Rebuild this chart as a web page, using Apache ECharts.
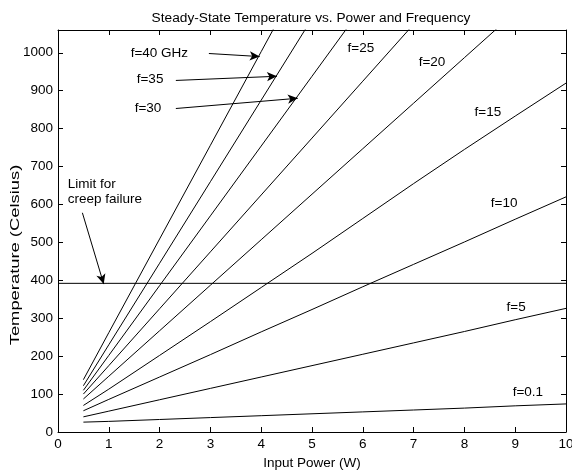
<!DOCTYPE html>
<html>
<head>
<meta charset="utf-8">
<script src="https://cdn.jsdelivr.net/npm/echarts@6/dist/echarts.min.js"></script>
<style>html,body{margin:0;padding:0;background:#fff}#c{width:572px;height:470px}</style>
</head>
<body>
<div id="c"></div>
<script>
// ---- data ----
var powers = [0.5, 1, 2, 3, 4, 5, 6, 7, 8, 9, 10];
var f0_1 = [26, 28, 33, 38, 43, 48, 53, 58, 63, 69, 74];
var f5   = [40, 55, 85, 115, 145, 175, 205, 235, 265, 296, 326];
var f10  = [56, 86, 145, 204, 264, 323, 383, 442, 501, 561, 620];
var f15  = [70, 113, 202, 291, 381, 471, 563, 655, 745, 833, 920];
var f20  = [87, 147, 267, 387, 507, 627, 747, 867, 987, 1107];
var f25  = [100, 175, 325, 475, 625, 775, 925, 1075];
var f30  = [110, 202, 386, 570, 754, 938, 1122];
var f35  = [122, 230, 445, 660, 875, 1090];
var f40  = [138, 262, 509, 756, 1003, 1250];
var limitX = [0, 10];
var limitTemp = 392;
var xTicks = [0,1,2,3,4,5,6,7,8,9,10];
var yTicks = [0,100,200,300,400,500,600,700,800,900,1000];
var yTitle = 'Temperature (Celsius)';

// annotations in data space
var curveLabels = [
  ['f=40 GHz', 1.43, 998], ['f=35', 1.55, 930], ['f=30', 1.51, 853],
  ['f=25', 5.70, 1011], ['f=20', 7.10, 975], ['f=15', 8.20, 843],
  ['f=10', 8.52, 603], ['f=5', 8.83, 330], ['f=0.1', 8.95, 106],
  ['Limit for', 0.19, 653], ['creep failure', 0.19, 614]
];
var arrows = [
  [[2.97, 998], [3.97, 990]],
  [[2.32, 927], [4.31, 938]],
  [[2.32, 853], [4.72, 880]],
  [[0.48, 578], [0.90, 390]]
];

var FONT = 'Liberation Sans, Arial, Helvetica, sans-serif';
function pairs(ys){ return ys.map(function(v,i){ return [powers[i], v]; }); }
function curve(name, ys){
  return { name:name, type:'line', data:pairs(ys), symbol:'none', clip:true,
    lineStyle:{ color:'#000', width:1 }, silent:true, animation:false };
}

var chart = echarts.init(document.getElementById('c'), null, {renderer:'canvas'});
var axisCommon = {
  axisLine:{ show:true, onZero:false, lineStyle:{ color:'#000', width:1 } },
  axisTick:{ show:true, inside:true, length:5, lineStyle:{ color:'#000' } },
  splitLine:{ show:false }
};
var option = {
  animation:false,
  backgroundColor:'#fff',
  title:{ text:'Steady-State Temperature vs. Power and Frequency', left:306, top:6, textAlign:'center',
    textStyle:{ fontFamily:FONT, fontSize:13.7, fontWeight:'normal', color:'#000' } },
  grid:{ left:58, right:6, top:30, bottom:38, outerBoundsMode:'none', containLabel:false },
  xAxis:[
    Object.assign({ type:'value', min:0, max:10, interval:1, position:'bottom',
      name:'Input Power (W)', nameLocation:'middle', nameGap:21,
      nameTextStyle:{ fontFamily:FONT, fontSize:13.5, color:'#000' },
      axisLabel:{ fontFamily:FONT, fontSize:13.5, color:'#000', margin:5 } }, axisCommon),
    Object.assign({ type:'value', min:0, max:10, interval:1, position:'top',
      axisLabel:{ show:false } }, axisCommon)
  ],
  yAxis:[
    Object.assign({ type:'value', min:0, max:1060, interval:100, position:'left',
      axisLabel:{ fontFamily:FONT, fontSize:13.5, color:'#000', margin:5, showMaxLabel:false,
        formatter:function(v){ return yTicks.indexOf(v) >= 0 ? String(v) : ''; } } }, axisCommon),
    Object.assign({ type:'value', min:0, max:1060, interval:100, position:'right',
      axisLabel:{ show:false } }, axisCommon)
  ],
  series:[
    curve('f=0.1', f0_1), curve('f=5', f5), curve('f=10', f10), curve('f=15', f15),
    curve('f=20', f20), curve('f=25', f25), curve('f=30', f30), curve('f=35', f35), curve('f=40', f40),
    { name:'limit', type:'line', symbol:'none', data:limitX.map(function(x){ return [x, limitTemp]; }),
      lineStyle:{ color:'#000', width:1 }, silent:true,
      markLine:{ silent:true, symbol:['none','arrow'], symbolSize:[7,10], label:{show:false},
        lineStyle:{ color:'#000', width:1, type:'solid' },
        data: arrows.map(function(a){ return [{coord:a[0]}, {coord:a[1]}]; }) } }
  ]
};
chart.setOption(option);

var g = curveLabels.map(function(l){
  var p = chart.convertToPixel({xAxisIndex:0, yAxisIndex:0}, [l[1], l[2]]);
  return { type:'text', x:p[0], y:p[1], silent:true,
    style:{ text:l[0], fill:'#000', font:'13.5px ' + FONT, textAlign:'left', textVerticalAlign:'middle' } };
});
// y-axis title (stretched along its length as in the reference)
g.push({ type:'text', x:15, y:255, rotation:Math.PI/2, scaleX:1.36, silent:true,
  style:{ text:yTitle, fill:'#000', font:'13.5px ' + FONT, textAlign:'center', textVerticalAlign:'middle' } });
chart.setOption({ graphic:g });
</script>
</body>
</html>
